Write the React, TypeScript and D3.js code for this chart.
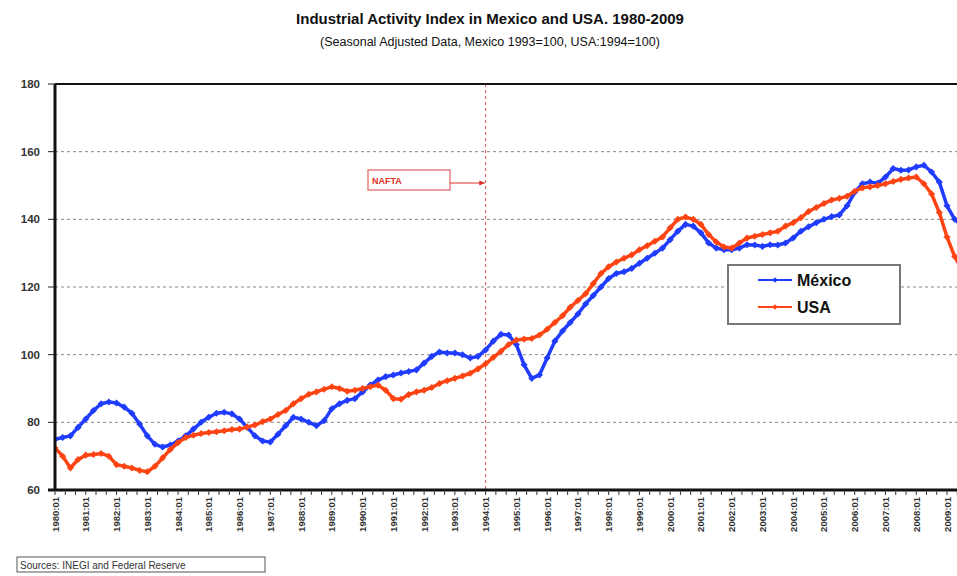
import React from "react";
import * as d3 from "d3";

// Quarterly readings starting 1980 Q1 (1980:01, 1980:04, ...)
const startYear = 1980;
const mexico = [
  75, 75.5, 76, 78.5, 81, 83.5, 85.5, 86, 85.7, 84.5, 82.7, 79.5,
  76, 73.5, 72.7, 73.3, 74.5, 76, 78, 80, 81.5, 82.7, 83, 82.5,
  81, 78.5, 76, 74.5, 74.2, 76.5, 79, 81.5, 81, 80, 79, 80.5,
  84, 85.5, 86.5, 87, 89, 91, 92.5, 93.5, 94, 94.6, 95, 95.5,
  97.5, 99.5, 100.8, 100.5, 100.5, 100, 99, 99.5, 101.4, 104, 106, 105.8,
  103, 97, 93, 94, 99, 104, 107, 109.5, 112, 115, 117.5, 120,
  122.5, 124, 124.5, 125.5, 127, 128.5, 130, 131.5, 134, 136.5, 138.5, 138,
  136, 133, 131.5, 131, 131, 131.5, 132.5, 132.4, 132, 132.5, 132.4, 133,
  134.5, 136.5, 137.8, 139, 140, 140.8, 141.3, 144, 148, 150.5, 151, 150.7,
  152.5, 155, 154.5, 154.6, 155.5, 156, 154, 151, 144, 140, 138,
];
const usa = [
  72.4, 70, 66.5, 69, 70.3, 70.5, 70.8, 70, 67.5, 67, 66.5, 65.8,
  65.4, 67, 69.5, 72, 74, 75.5, 76.2, 76.7, 77, 77.2, 77.5, 77.9,
  78, 78.6, 79.2, 80.2, 81, 82.3, 83.5, 85.5, 87, 88.3, 89, 89.8,
  90.5, 90, 89.2, 89.5, 90, 90.5, 91, 89.5, 87, 86.8, 88.2, 89,
  89.5, 90.3, 91.5, 92.3, 93, 93.7, 94.5, 95.8, 97.3, 99.2, 101, 103,
  104.3, 104.6, 104.8, 105.8, 107.5, 109.5, 111.5, 114, 116, 118, 121, 124,
  126, 127.4, 128.5, 129.5, 131, 132.2, 133.5, 134.8, 137.5, 140, 140.7, 140,
  138.5, 135.5, 133.3, 131.8, 131.5, 133, 134.5, 135, 135.5, 136, 136.5, 138,
  139, 140.5, 142.3, 143.5, 144.7, 145.7, 146.2, 146.8, 148.3, 149.3, 149.6, 150,
  150.5, 151.2, 151.8, 152.2, 152.5, 150.5, 147.5, 142, 134.8, 129, 125,
];
const yTicks = [60, 80, 100, 120, 140, 160, 180];
const gridValues = [80, 100, 120, 140, 160];
const yearLabels = d3.range(1980, 2010).map((y) => `${y}:01`);
const naftaYear = 1994;
const seriesNames = ["México", "USA"];

const W = 957;
const H = 576;
const left = 55;
const top = 84;
const bottom = 490;
const BLUE = "#1f3cff";
const RED = "#ff4414";
const FONT = "Liberation Sans, Arial, sans-serif";

export default function App() {
  const x = d3.scaleLinear().domain([1980, 2009]).range([left, 947]);
  const y = d3.scaleLinear().domain([60, 180]).range([bottom, top]);

  const toPts = (arr: number[]) =>
    arr.map((v, i) => [startYear + i / 4, v] as [number, number]);
  const line = d3
    .line<[number, number]>()
    .x((d) => x(d[0]))
    .y((d) => y(d[1]));

  const series = [
    { name: seriesNames[0], data: toPts(mexico), color: BLUE },
    { name: seriesNames[1], data: toPts(usa), color: RED },
  ];

  const minorTicks = d3.range(0, 30 * 3 + 2).map((i) => 1980 + i / 3);

  return (
    <div>
      <style>{`body{margin:0;}`}</style>
      <svg width={W} height={H} style={{ display: "block", background: "#fff" }}>
        <defs>
          <clipPath id="plot">
            <rect x={left} y={top - 2} width={W - left} height={bottom - top + 4} />
          </clipPath>
          <marker id="arrow" viewBox="0 0 10 10" refX="9" refY="5" markerWidth="6" markerHeight="6" orient="auto">
            <path d="M0,1 L10,5 L0,9 z" fill="#e0302a" />
          </marker>
        </defs>
        <text x={490} y={24} textAnchor="middle" fontFamily={FONT} fontWeight="bold" fontSize={15} fill="#111">
          Industrial Activity Index in Mexico and USA. 1980-2009
        </text>
        <text x={490} y={46} textAnchor="middle" fontFamily={FONT} fontSize={12.5} fill="#111">
          (Seasonal Adjusted Data, Mexico 1993=100, USA:1994=100)
        </text>

        {/* grid */}
        {gridValues.map((v) => (
          <line key={v} x1={left} x2={W} y1={y(v)} y2={y(v)} stroke="#888" strokeWidth={1} strokeDasharray="3,3" />
        ))}

        {/* y ticks and labels */}
        {yTicks.map((v) => (
          <g key={v}>
            <line x1={left - 7} x2={left} y1={y(v)} y2={y(v)} stroke="#222" strokeWidth={1} />
            <text x={40} y={y(v) + 4} textAnchor="end" fontFamily={FONT} fontSize={11.5} fontWeight="bold" fill="#333">
              {v}
            </text>
          </g>
        ))}

        {/* NAFTA */}
        <line x1={x(naftaYear)} x2={x(naftaYear)} y1={top} y2={bottom} stroke="#e05050" strokeWidth={1} strokeDasharray="3,3" />
        <rect x={368} y={170} width={82} height={20} fill="#fff" stroke="#e36060" strokeWidth={1.2} />
        <text x={372} y={184} fontFamily={FONT} fontSize={9} fontWeight="bold" fill="#e0302a">
          NAFTA
        </text>
        <line x1={450} x2={x(naftaYear) - 1} y1={183} y2={183} stroke="#e0302a" strokeWidth={1} markerEnd="url(#arrow)" />

        {/* series */}
        <g clipPath="url(#plot)">
          {series.map((s) => (
            <g key={s.name}>
              <path d={line(s.data) || ""} fill="none" stroke={s.color} strokeWidth={3.5} strokeLinejoin="round" />
              {s.data.map((d, i) => (
                <rect
                  key={i}
                  x={x(d[0]) - 2.5}
                  y={y(d[1]) - 2.5}
                  width={5}
                  height={5}
                  fill={s.color}
                  transform={`rotate(45 ${x(d[0])} ${y(d[1])})`}
                />
              ))}
            </g>
          ))}
        </g>

        {/* axes frame */}
        <line x1={left} x2={W} y1={top} y2={top} stroke="#111" strokeWidth={2} />
        <line x1={left} x2={left} y1={top} y2={bottom} stroke="#111" strokeWidth={3} />
        <line x1={left - 7} x2={W} y1={bottom} y2={bottom} stroke="#111" strokeWidth={3} />
        {minorTicks.map((t, i) => (
          <line key={i} x1={x(t)} x2={x(t)} y1={bottom} y2={bottom + 5} stroke="#333" strokeWidth={1} />
        ))}

        {/* x labels */}
        {yearLabels.map((lab, i) => {
          const xx = x(1980 + i);
          return (
            <text
              key={lab}
              transform={`translate(${xx + 3.5},${497}) rotate(-90)`}
              textAnchor="end"
              fontFamily={FONT}
              fontSize={9.5}
              fontWeight="bold"
              fill="#333"
            >
              {lab}
            </text>
          );
        })}

        {/* legend */}
        <rect x={728} y={265} width={172} height={59} fill="#fff" stroke="#777" strokeWidth={2} />
        {series.map((s, i) => {
          const ly = 280 + i * 27;
          return (
            <g key={s.name}>
              <line x1={758} x2={792} y1={ly} y2={ly} stroke={s.color} strokeWidth={2} />
              <rect x={773} y={ly - 2} width={4} height={4} fill={s.color} transform={`rotate(45 775 ${ly})`} />
              <text x={797} y={ly + 6} fontFamily={FONT} fontSize={16} fontWeight="bold" fill="#111">
                {s.name}
              </text>
            </g>
          );
        })}

        {/* source */}
        <rect x={17} y={557} width={248} height={15} fill="#fff" stroke="#555" strokeWidth={1} />
        <text x={20} y={568.5} fontFamily={FONT} fontSize={10} fill="#333">
          Sources: INEGI and Federal Reserve
        </text>
      </svg>
    </div>
  );
}
